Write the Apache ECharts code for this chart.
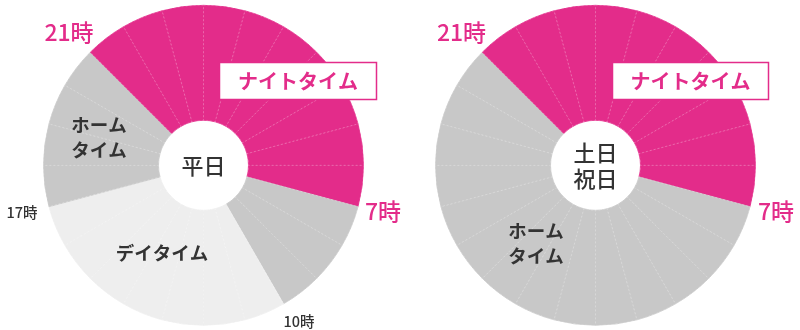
<!DOCTYPE html>
<html><head><meta charset="utf-8">
<script src="https://cdn.jsdelivr.net/npm/echarts@6/dist/echarts.min.js"></script>
<style>html,body{margin:0;padding:0;background:#fff}#c{width:800px;height:330px}</style>
</head><body><div id="c"></div>
<script>
// hour slots 0..23, each one hour
const hours = ['0','1','2','3','4','5','6','7','8','9','10','11','12','13','14','15','16','17','18','19','20','21','22','23'];
const weekdayZones = ['night','night','night','night','night','night','night',
  'home','home','home',
  'day','day','day','day','day','day','day',
  'home','home','home','home',
  'night','night','night'];
const holidayZones = ['night','night','night','night','night','night','night',
  'home','home','home','home','home','home','home','home','home','home','home','home','home','home',
  'night','night','night'];
const zoneColors = {night:'#E32C8A', home:'#C8C8C8', day:'#EEEEEE'};
const FONT = '"Noto Sans CJK JP", "Noto Sans", sans-serif';
const PINK = '#E32C8A', DARK = '#333333';

function colored(zones, center){
  return {
    type:'pie', center:center, radius:[45,160], startAngle:90, clockwise:true, z:1,
    silent:true, animation:false, label:{show:false}, labelLine:{show:false},
    data: hours.map((h,i)=>({name:h, value:1, itemStyle:{color:zoneColors[zones[i]],
      borderColor:zoneColors[zones[i]], borderWidth:0.8}}))
  };
}
function dividers(center){
  return {
    type:'pie', center:center, radius:[45,160], startAngle:90, clockwise:true, z:2,
    silent:true, animation:false, label:{show:false}, labelLine:{show:false},
    data: hours.map((h,i)=>({name:h, value:1, itemStyle:{color:'rgba(0,0,0,0)',
      borderColor:'rgba(255,255,255,0.22)', borderWidth:0.7, borderType:[2,2]}}))
  };
}
function txt(x,y,text,size,color,weight,lh){
  return {type:'text', x:x, y:y, z:100, zlevel:0, style:{text:text, fill:color, font:(weight||'normal')+' '+size+'px '+FONT,
    align:'center', verticalAlign:'middle', lineHeight:lh||size*1.2}};
}
const chart = echarts.init(document.getElementById('c'), null, {renderer:'canvas'});
const L=[203.5,165.3], R=[595.5,165.3];
chart.setOption({
  animation:false,
  series:[colored(weekdayZones,L), dividers(L), colored(holidayZones,R), dividers(R)],
  graphic:{elements:[
    txt(203.5,165.5,'平日',22,DARK,'500'),
    txt(595.5,165.5,'土日\n祝日',22,DARK,'500',26),
    {type:'rect', z:90, shape:{x:219.5,y:62.5,width:157,height:37}, style:{fill:'#fff', stroke:PINK, lineWidth:1.5}},
    txt(298,81.5,'ナイトタイム',20,PINK,'bold'),
    {type:'rect', z:90, shape:{x:612.5,y:62.5,width:156,height:37}, style:{fill:'#fff', stroke:PINK, lineWidth:1.5}},
    txt(690.5,81.5,'ナイトタイム',20,PINK,'bold'),
    txt(69,32,'21時',23,PINK,'500'),
    txt(461.5,32,'21時',23,PINK,'500'),
    txt(383,211,'7時',23,PINK,'500'),
    txt(776,211,'7時',23,PINK,'500'),
    txt(22,212,'17時',14.5,DARK,'500'),
    txt(299,321,'10時',14.5,DARK,'500'),
    txt(99,137,'ホーム\nタイム',18.5,DARK,'bold',25),
    txt(162,253,'デイタイム',18.5,DARK,'bold'),
    txt(536,243,'ホーム\nタイム',18.5,DARK,'bold',25)
  ]}
});
</script></body></html>
